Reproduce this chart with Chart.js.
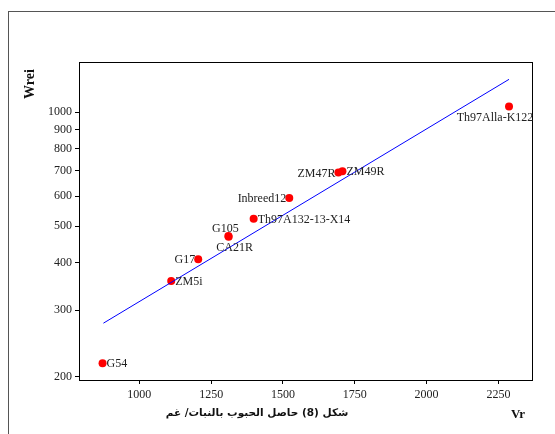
<!DOCTYPE html>
<html>
<head>
<meta charset="utf-8">
<script src="https://cdn.jsdelivr.net/npm/chart.js@4.4.1/dist/chart.umd.min.js"></script>
<style>
  html, body { margin: 0; padding: 0; background: #fff; }
  #wrap { position: relative; width: 555px; height: 434px; }
  #frame { position: absolute; left: 8px; top: 11px; right: -2px; bottom: -2px;
           border-left: 1px solid #555; border-top: 1px solid #555; }
  canvas { position: absolute; left: 0; top: 0; }
</style>
</head>
<body>
<div id="wrap">
  <div id="frame"></div>
  <canvas id="chart" width="555" height="434"></canvas>
</div>
<script>
// datos de los genotipos (Vr, Wrei)
const genotypes = ['G54', 'ZM5i', 'G17', 'G105', 'CA21R', 'Th97A132-13-X14', 'Inbreed12', 'ZM47R', 'ZM49R', 'Th97Alla-K122'];
const vrValues   = [872, 1111, 1205, 1310, 1311, 1398, 1522, 1693, 1707, 2287];
const wreiValues = [217, 358, 409, 471, 469, 523, 593, 693, 698, 1035];

// recta de regresion
const fitVr   = [875, 2287];
const fitWrei = [277, 1222];

// ticks
const xTicks = [1000, 1250, 1500, 1750, 2000, 2250];
const yTicks = [200, 300, 400, 500, 600, 700, 800, 900, 1000];

// donde va cada etiqueta respecto al punto
const labelSide = ['right', 'right', 'left', 'above', 'below', 'right', 'left', 'left', 'right', 'below'];
const labelShift = [0, 0, 0, -3, 6, 0, 0, 0, 0, -14];

const serif = '"Liberation Serif", "Times New Roman", serif';

const labelsPlugin = {
  id: 'extras',
  afterDatasetsDraw(chart) {
    const ctx = chart.ctx;
    const area = chart.chartArea;
    ctx.save();
    // caja del grafico
    ctx.strokeStyle = '#000';
    ctx.lineWidth = 1;
    ctx.strokeRect(area.left + 0.5, area.top + 0.5, area.right - area.left, area.bottom - area.top);

    // etiquetas de los puntos
    ctx.fillStyle = '#222';
    ctx.font = '12px ' + serif;
    const pts = chart.getDatasetMeta(1).data;
    pts.forEach(function(p, i) {
      const side = labelSide[i];
      let x = p.x, y = p.y;
      if (side === 'right') { ctx.textAlign = 'left'; ctx.textBaseline = 'middle'; x += 4; y += 1; }
      else if (side === 'left') { ctx.textAlign = 'right'; ctx.textBaseline = 'middle'; x -= 3; y += 1; }
      else if (side === 'above') { ctx.textAlign = 'center'; ctx.textBaseline = 'middle'; x += labelShift[i]; y -= 7; }
      else { ctx.textAlign = 'center'; ctx.textBaseline = 'middle'; x += labelShift[i]; y += 11; }
      ctx.fillText(genotypes[i], x, y);
    });
    ctx.restore();
  },
  afterDraw(chart) {
    const ctx = chart.ctx;
    ctx.save();
    ctx.fillStyle = '#111';
    // titulo eje y
    ctx.font = 'bold 14px ' + serif;
    ctx.translate(30, 84);
    ctx.rotate(-Math.PI / 2);
    ctx.textAlign = 'center';
    ctx.textBaseline = 'middle';
    ctx.fillText('Wrei', 0, 0);
    ctx.restore();

    ctx.save();
    ctx.fillStyle = '#111';
    ctx.font = 'bold 13px ' + serif;
    ctx.textAlign = 'center';
    ctx.textBaseline = 'middle';
    ctx.fillText('Vr', 518, 415);
    // pie de figura
    ctx.font = 'bold 10.5px "DejaVu Sans", sans-serif';
    ctx.direction = 'rtl';
    ctx.fillText('شكل (8) حاصل الحبوب بالنبات/ غم', 257, 413);
    ctx.restore();
  }
};

const chart = new Chart(document.getElementById('chart').getContext('2d'), {
  type: 'scatter',
  data: {
    datasets: [
      {
        type: 'line',
        label: 'fit',
        data: fitVr.map((v, i) => ({ x: v, y: fitWrei[i] })),
        borderColor: '#0000ff',
        borderWidth: 1,
        pointRadius: 0,
        fill: false
      },
      {
        label: 'Wrei',
        data: vrValues.map((v, i) => ({ x: v, y: wreiValues[i] })),
        backgroundColor: '#ff0000',
        borderColor: '#ff0000',
        pointRadius: 4,
        pointBorderWidth: 0
      }
    ]
  },
  options: {
    responsive: false,
    animation: false,
    layout: { padding: { left: 0, top: 62, right: 23, bottom: 0 } },
    plugins: {
      legend: { display: false },
      tooltip: { enabled: false }
    },
    scales: {
      x: {
        type: 'linear',
        min: 790,
        max: 2367,
        afterBuildTicks: function(scale) { scale.ticks = xTicks.map(v => ({ value: v })); },
        afterFit: function(scale) { scale.height = 54; },
        grid: { drawOnChartArea: false, drawTicks: true, tickLength: 4, color: '#000' },
        border: { display: true, color: '#000' },
        ticks: { color: '#222', font: { family: serif, size: 12 }, padding: 4, maxRotation: 0,
                 callback: function(v) { return String(v); } }
      },
      y: {
        type: 'logarithmic',
        min: 196,
        max: 1358,
        afterBuildTicks: function(scale) { scale.ticks = yTicks.map(v => ({ value: v })); },
        afterFit: function(scale) { scale.width = 79; },
        grid: { drawOnChartArea: false, drawTicks: true, tickLength: 4, color: '#000' },
        border: { display: true, color: '#000' },
        ticks: { color: '#222', font: { family: serif, size: 12 }, padding: 3,
                 callback: function(v) { return String(v); } }
      }
    }
  },
  plugins: [labelsPlugin]
});
</script>
</body>
</html>
